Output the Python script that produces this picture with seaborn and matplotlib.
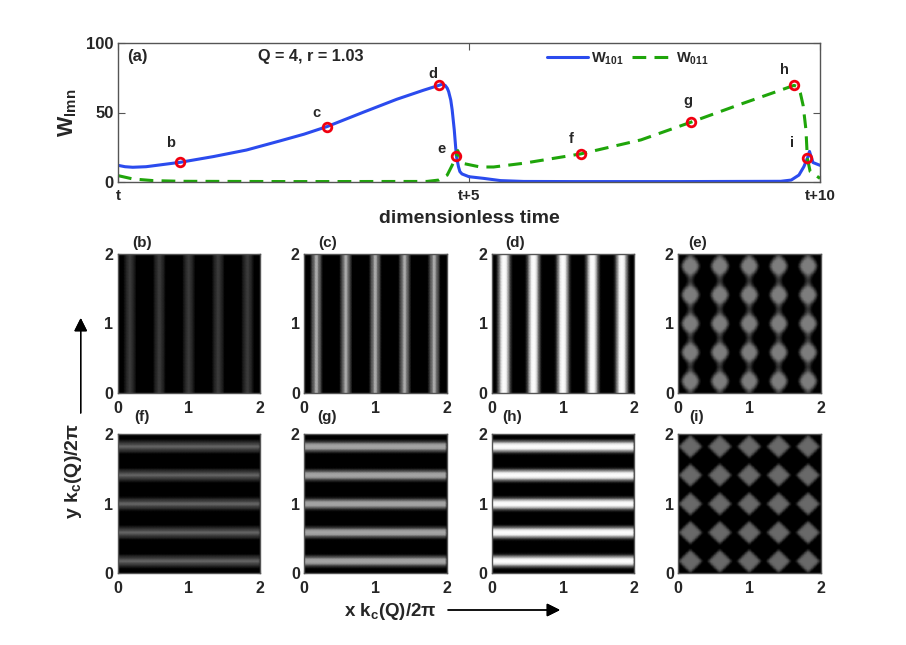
import numpy as np
import matplotlib
matplotlib.use('Agg')
import matplotlib.pyplot as plt
import seaborn as sns

# time series
t_101 = [0, 0.1, 0.21, 0.40, 0.89, 1.36, 1.83, 2.31, 2.65, 2.98, 3.5, 3.97, 4.35, 4.57, 4.62, 4.66, 4.69, 4.71, 4.74,
         4.76, 4.79, 4.82, 4.85, 4.87, 4.90, 5.0, 5.21, 5.45, 5.78, 6.5, 8.0, 9.44, 9.59, 9.7, 9.77, 9.82, 9.85, 9.9, 10]
w_101 = [12, 11, 10.6, 11, 14.2, 18.3, 23, 29.6, 34.4, 39.9, 50.3, 59.5, 66, 69.5, 70.4, 69.5, 67.5, 65, 59,
         52, 37.5, 18.8, 11, 7.5, 5.8, 3.8, 2.6, 1, 0.4, 0.3, 0.3, 0.5, 1.4, 5, 11, 17, 22, 14, 12]
t_011 = [0, 0.21, 0.5, 0.9, 2.5, 4.4, 4.57, 4.69, 4.76, 4.82, 4.84, 4.9, 4.95, 5.16, 5.35, 5.78, 6.59,
         7.45, 8.16, 8.87, 9.35, 9.63, 9.68, 9.72, 9.76, 9.8, 9.82, 9.86, 10]
w_011 = [4.6, 2.2, 1, 0.5, 0.3, 0.4, 1.4, 5, 12, 18.8, 22.6, 13.5, 13, 10.8, 10.8, 13.5, 20.2,
         30.3, 43, 56, 64.5, 69.5, 68.5, 64, 55, 37.5, 17, 7.5, 2.6]

point_names = ['b', 'c', 'd', 'e', 'f', 'g', 'h', 'i']
point_t = [0.89, 2.98, 4.57, 4.82, 6.59, 8.16, 9.63, 9.82]
point_w = [14.2, 39.9, 69.5, 18.8, 20.2, 43, 69.5, 17]
# offset of each letter from its ring, points
point_dx = [-7, -8, -4, -11, -7, -2, -7, -11]
point_dy = [14, 10, 8, 5, 11, 15, 11, 11]

# gray level across one stripe period (20 cells)
stripe_b = [0, 0, 0, 0, 0, 20, 36, 46, 58, 58, 46, 36, 20, 0, 0, 0, 0, 0, 0, 0]
stripe_c = [0, 0, 0, 0, 0, 40, 85, 110, 170, 170, 110, 85, 40, 0, 0, 0, 0, 0, 0, 0]
stripe_d = [0, 0, 0, 10, 50, 110, 180, 240, 252, 252, 240, 180, 110, 50, 10, 0, 0, 0, 0, 0]
stripe_f = [0, 0, 0, 0, 15, 38, 55, 72, 98, 98, 72, 55, 38, 15, 0, 0, 0, 0, 0, 0]
stripe_g = [0, 0, 0, 0, 20, 55, 100, 155, 165, 165, 155, 100, 55, 20, 0, 0, 0, 0, 0, 0]
stripe_h = [0, 0, 0, 10, 50, 110, 185, 240, 252, 252, 240, 185, 110, 50, 10, 0, 0, 0, 0, 0]

# one quarter of a cell of the square patterns (row = y distance, column = x distance)
quad_e = [[125, 125, 125, 125, 110, 70, 25, 0, 0, 0],
          [125, 125, 125, 125, 100, 60, 15, 0, 0, 0],
          [125, 125, 125, 115, 80, 40, 5, 0, 0, 0],
          [125, 125, 120, 95, 60, 20, 0, 0, 0, 0],
          [125, 115, 95, 70, 35, 5, 0, 0, 0, 0],
          [110, 95, 70, 40, 10, 0, 0, 0, 0, 0],
          [90, 70, 40, 15, 0, 0, 0, 0, 0, 0],
          [70, 50, 25, 5, 0, 0, 0, 0, 0, 0],
          [60, 42, 15, 0, 0, 0, 0, 0, 0, 0],
          [50, 35, 10, 0, 0, 0, 0, 0, 0, 0]]
quad_i = [[105, 105, 105, 105, 105, 100, 80, 45, 10, 0],
          [105, 105, 105, 105, 100, 85, 50, 15, 0, 0],
          [105, 105, 105, 100, 85, 55, 15, 0, 0, 0],
          [105, 105, 100, 85, 55, 20, 0, 0, 0, 0],
          [105, 100, 85, 55, 20, 0, 0, 0, 0, 0],
          [100, 85, 55, 20, 0, 0, 0, 0, 0, 0],
          [80, 50, 15, 0, 0, 0, 0, 0, 0, 0],
          [45, 15, 0, 0, 0, 0, 0, 0, 0, 0],
          [10, 0, 0, 0, 0, 0, 0, 0, 0, 0],
          [0, 0, 0, 0, 0, 0, 0, 0, 0, 0]]

time_ticks = [0, 5, 10]
time_labels = ['t', 't+5', 't+10']
w_ticks = [0, 50, 100]
space_labels = ['0', '1', '2']

sns.set_style('ticks')
plt.rcParams['font.family'] = ['Liberation Sans', 'DejaVu Sans']
plt.rcParams['font.weight'] = 'bold'
plt.rcParams['mathtext.default'] = 'regular'
plt.rcParams['xtick.direction'] = 'in'
plt.rcParams['ytick.direction'] = 'in'

W, H = 906, 645
GRID = '#555555'


def px_axes(fig, left, right, top, bottom):
    return fig.add_axes([left / W, 1 - bottom / H, (right - left) / W, (bottom - top) / H])


def vertical(profile):
    row = np.tile(profile, 5)[:98]
    return np.tile(row, (98, 1))


def horizontal(profile):
    col = np.tile(profile, 5)[:98]
    out = np.tile(col[:, None], (1, 98)).astype(float)
    out[:, 0] *= 0.3
    out[:, -1] *= 0.3
    return out


def squares(quad):
    order = list(range(8, -1, -1)) + list(range(10)) + [9]
    tile = np.array(quad)[np.ix_(order, order)]
    return np.tile(tile, (5, 5))[:98, :98]


fig = plt.figure(figsize=(W / 100, H / 100), dpi=100)

# top panel
ax = px_axes(fig, 118, 820, 43, 182)
sns.lineplot(x=t_101, y=w_101, sort=False, estimator=None, color='#2b4bee', lw=2.2, label='W$_{101}$', ax=ax)
sns.lineplot(x=t_011, y=w_011, sort=False, estimator=None, color='#1fa50a', lw=2.2,
             linestyle=(0, (4.5, 2.7)), label='W$_{011}$', ax=ax)
ax.plot(point_t, point_w, 'o', ms=6.2, mfc='none', mec='#f00010', mew=2.0, zorder=5)
for name, t, w, dx, dy in zip(point_names, point_t, point_w, point_dx, point_dy):
    ax.annotate(name, (t, w), xytext=(dx, dy), textcoords='offset points', ha='center', va='center', fontsize=10.5)
ax.set_xlim(0, 10)
ax.set_ylim(0, 100)
ax.set_xticks(time_ticks)
ax.set_xticklabels(time_labels, fontsize=11)
ax.set_yticks(w_ticks)
ax.tick_params(axis='y', labelsize=12, length=5, color=GRID, right=True, pad=3)
ax.tick_params(axis='x', length=5, color=GRID, top=True, pad=5)
ax.set_xlabel('dimensionless time', fontsize=14, fontweight='bold', labelpad=5)
ax.set_ylabel('W$_{lmn}$', fontsize=15.5, fontweight='bold', labelpad=5)
for s in ax.spines.values():
    s.set_visible(True)
    s.set_color(GRID)
    s.set_linewidth(1)
ax.legend(loc='upper left', bbox_to_anchor=(0.592, 1.04), ncol=2, frameon=False, fontsize=10.5,
          handlelength=2.85, columnspacing=0.55, handletextpad=0.2)
ax.text(0.0128, 0.9, '(a)', transform=ax.transAxes, ha='left', va='center', fontsize=12)
ax.text(0.274, 0.9, 'Q = 4, r = 1.03', transform=ax.transAxes, ha='center', va='center', fontsize=11.7)

# pattern panels
lefts = [117.5, 304, 491.7, 678]
rows = [(253.5, 393), (434, 573)]
fields = [[vertical(stripe_b), vertical(stripe_c), vertical(stripe_d), squares(quad_e)],
          [horizontal(stripe_f), horizontal(stripe_g), horizontal(stripe_h), squares(quad_i)]]
names = [['(b)', '(c)', '(d)', '(e)'], ['(f)', '(g)', '(h)', '(i)']]
name_x = [[142, 328, 515, 698], [142, 327, 512, 697]]
name_y = [243, 417]
for r, (top, bottom) in enumerate(rows):
    for c, left in enumerate(lefts):
        a = px_axes(fig, left, left + 142.7, top, bottom)
        grid = fields[r][c]
        # gouraud keeps the soft look of the original images
        sns.heatmap(grid, vmin=0, vmax=255, cmap='gray', cbar=False, xticklabels=False, yticklabels=False,
                    shading='gouraud', rasterized=True, ax=a)
        n = grid.shape[0] - 1
        a.set_xlim(0, n)
        a.set_ylim(0, n)
        a.set_xticks([0, n / 2, n])
        a.set_yticks([0, n / 2, n])
        a.set_xticklabels(space_labels, fontsize=11.5, rotation=0)
        a.set_yticklabels(space_labels, fontsize=11.5, rotation=0)
        a.tick_params(axis='y', length=2, color='#333333', right=True, pad=3)
        a.tick_params(axis='x', length=2, color='#333333', top=True, pad=6)
        for s in a.spines.values():
            s.set_visible(True)
            s.set_color(GRID)
            s.set_linewidth(1)
        fig.text(name_x[r][c] / W, 1 - name_y[r] / H, names[r][c], ha='center', va='center', fontsize=11)

# axis captions and arrows
fig.text(73 / W, 1 - 471 / H, 'y k$_{c}$(Q)/2$\\pi$', rotation=90, ha='center', va='center', fontsize=14)
fig.text(390 / W, 1 - 611 / H, 'x k$_{c}$(Q)/2$\\pi$', ha='center', va='center', fontsize=13.5)
arrow = dict(arrowstyle='-|>', color='black', lw=1, mutation_scale=20, shrinkA=0, shrinkB=0)
fig.add_artist(plt.annotate('', xy=(80.7 / W, 1 - 318 / H), xytext=(80.7 / W, 1 - 413 / H),
                            xycoords='figure fraction', textcoords='figure fraction', arrowprops=arrow))
fig.add_artist(plt.annotate('', xy=(560 / W, 1 - 610 / H), xytext=(448 / W, 1 - 610 / H),
                            xycoords='figure fraction', textcoords='figure fraction', arrowprops=arrow))

fig.savefig('out.png', dpi=100)
